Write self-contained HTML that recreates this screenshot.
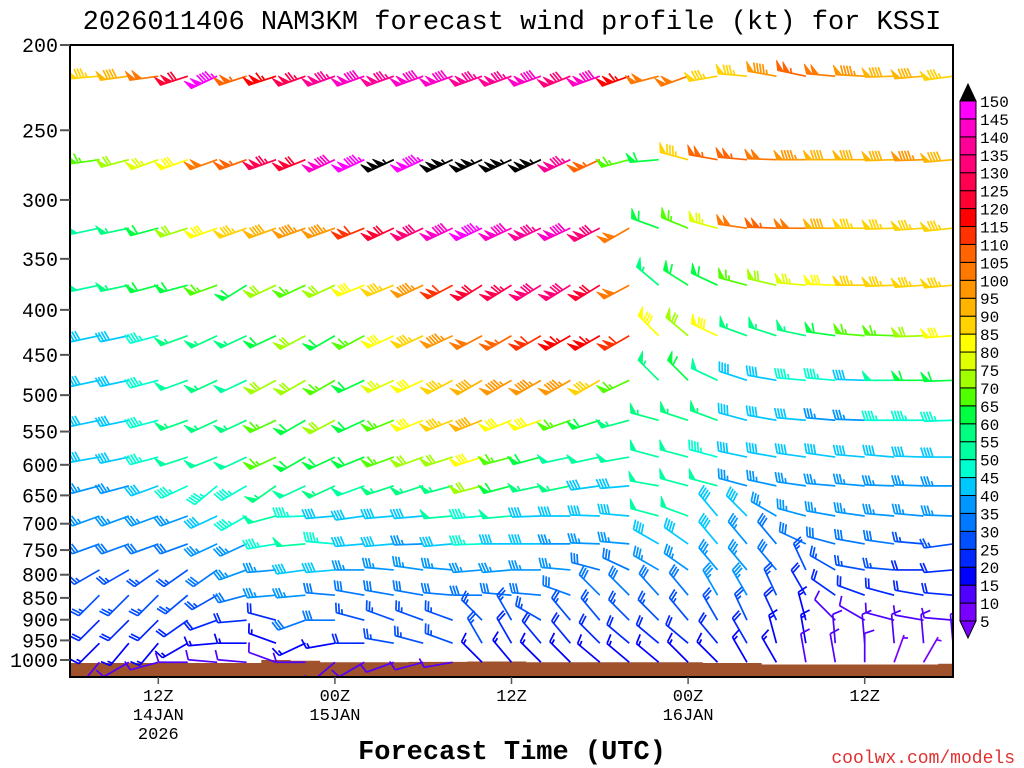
<!DOCTYPE html>
<html><head><meta charset="utf-8"><style>
html,body{margin:0;padding:0;background:#fff;}
svg{display:block;}
text{font-family:"Liberation Mono",monospace;fill:#000;}
</style></head><body>
<svg id="chart" width="1024" height="768" viewBox="0 0 1024 768" xmlns="http://www.w3.org/2000/svg">
<defs><clipPath id="plotclip"><rect x="70" y="45" width="883" height="632"/></clipPath></defs>
<rect x="0" y="0" width="1024" height="768" fill="#fff"/>
<text x="512" y="29" text-anchor="middle" font-size="27">2026011406 NAM3KM forecast wind profile (kt) for KSSI</text>
<g id="terrain" clip-path="url(#plotclip)"></g>
<g id="barbs" clip-path="url(#plotclip)"></g>
<rect x="70" y="45" width="883" height="632" fill="none" stroke="#000" stroke-width="2"/>
<g id="yaxis"></g>
<g id="xaxis"></g>
<text x="512" y="759" text-anchor="middle" font-size="27" font-weight="bold">Forecast Time (UTC)</text>
<text x="1015" y="763" text-anchor="end" font-size="18" style="fill:#e03030">coolwx.com/models</text>
<g id="cbar"></g>
</svg>
<script>
const hours=[0,2,4,6,8,10,12,14,16,18,20,22,24,26,28,30,32,34,36,38,40,42,44,46,48,50,52,54,56,58,60];
const levels=[217,270,323,375,428,481,534,588,634,686,738,790,844,901,957,1006];
const spd217=[85,85,90,100,120,145,105,115,125,135,140,135,140,140,135,135,140,130,140,115,100,100,85,85,95,105,100,95,90,90,85];
const dir217=[265,265,262,262,252,245,252,252,250,250,250,250,250,250,250,250,250,248,250,250,255,250,260,275,280,282,275,273,268,265,262];
const spd270=[65,65,70,75,80,100,105,125,120,140,145,155,145,155,155,155,155,135,105,65,60,85,105,105,100,95,90,90,90,95,90];
const dir270=[268,262,255,250,250,250,250,250,248,245,245,245,245,245,245,245,245,245,245,255,265,285,280,275,272,270,270,270,268,268,265];
const spd323=[50,50,55,60,70,80,85,90,95,95,110,120,130,140,145,140,135,140,130,100,60,65,75,100,105,100,90,85,85,85,85];
const dir323=[260,258,258,255,252,250,250,250,250,250,248,245,245,245,245,245,245,245,243,240,290,292,285,278,272,270,270,270,268,266,264];
const spd375=[50,50,55,60,60,65,60,70,65,70,80,85,95,110,120,125,130,130,120,100,55,60,60,65,70,75,80,85,85,85,85];
const dir375=[260,258,258,255,255,250,238,245,245,245,248,248,245,242,238,238,238,238,238,242,310,302,295,285,283,275,272,270,268,266,265];
const spd428=[40,40,40,45,55,55,55,60,70,60,65,80,85,95,100,105,110,115,115,110,80,70,80,55,55,55,60,65,65,70,80];
const dir428=[260,258,258,255,250,245,245,245,242,240,242,245,245,245,242,240,240,240,240,240,315,310,295,290,288,282,278,275,272,268,266];
const spd481=[40,40,40,45,50,55,50,70,70,65,60,75,80,85,90,95,95,95,85,65,55,60,50,40,40,45,45,40,50,60,60];
const dir481=[260,258,258,255,250,245,245,242,240,240,245,245,245,242,240,240,240,240,240,245,315,315,295,288,280,275,275,272,270,270,268];
const spd534=[40,40,40,45,55,55,55,65,60,70,60,65,80,85,90,80,80,65,60,55,55,55,55,40,40,40,35,35,45,45,45];
const dir534=[260,258,258,255,250,245,245,245,240,242,245,248,248,248,248,248,250,250,252,255,285,288,290,285,280,275,275,272,270,270,268];
const spd588=[40,40,40,45,50,50,50,65,60,60,60,65,70,70,80,65,60,50,50,50,50,50,45,40,40,40,40,40,40,40,40];
const dir588=[260,260,258,255,252,248,245,245,240,245,248,250,250,252,252,255,255,258,258,260,285,285,285,282,280,278,278,275,275,272,270];
const spd634=[35,35,35,40,45,45,45,55,50,55,50,55,55,55,70,60,55,55,40,40,50,50,50,35,35,35,35,35,35,35,35];
const dir634=[262,255,255,250,245,230,240,235,245,245,250,252,252,255,255,255,258,258,262,265,280,285,285,285,282,278,275,275,272,272,270];
const spd686=[35,35,35,35,35,40,45,50,45,40,40,40,40,50,45,50,40,40,40,40,50,50,40,40,35,35,35,35,35,35,35];
const dir686=[250,250,250,250,250,245,240,255,268,265,262,265,265,265,265,265,268,270,272,275,285,290,320,315,300,285,280,278,275,275,272];
const spd738=[30,30,30,30,30,35,35,45,50,45,40,40,35,40,45,40,40,35,35,35,40,40,40,35,30,30,30,30,30,25,25];
const dir738=[250,250,250,250,250,245,245,260,265,275,265,265,268,265,268,270,270,270,272,275,300,305,320,320,320,295,285,280,278,275,262];
const spd790=[25,25,25,25,25,30,35,35,40,40,35,35,35,35,35,35,35,35,30,30,35,35,35,35,30,25,25,25,25,20,20];
const dir790=[240,240,240,235,235,235,250,265,262,265,270,275,278,275,265,265,270,275,285,295,300,305,320,320,320,335,300,280,275,270,265];
const spd844=[25,25,25,25,25,25,30,35,35,30,30,30,30,30,30,30,30,30,30,30,30,30,35,35,25,20,20,20,20,20,20];
const dir844=[225,225,225,225,230,240,255,265,265,275,280,280,280,275,270,275,275,290,315,315,318,320,330,330,335,330,305,290,285,280,275];
const spd901=[20,20,20,20,20,20,20,20,30,30,25,25,25,25,25,25,25,25,25,25,25,25,25,25,20,15,10,10,10,10,10];
const dir901=[225,225,225,225,235,250,265,285,250,270,285,290,290,290,315,330,300,320,320,315,315,320,330,335,335,345,315,300,285,280,275];
const spd957=[15,15,15,15,15,15,15,15,15,15,20,25,25,25,25,20,20,20,20,20,20,20,20,20,15,15,10,10,10,10,10];
const dir957=[225,225,220,220,240,265,270,290,245,260,270,280,285,290,330,330,320,320,315,310,310,310,320,330,345,350,355,355,355,355,355];
const spd1006=[10,10,10,10,10,10,10,10,10,10,10,10,10,10,15,15,15,15,15,15,15,15,15,15,15,10,10,10,5,5,10];
const dir1006=[220,220,240,255,270,275,275,290,270,230,240,250,255,260,315,320,315,315,310,310,310,315,315,330,330,350,350,360,20,30,45];
const surfacePressure=[1008,1008,1008,1008,1008,1008,1008,1000,1002,1006,1006,1006,1005,1005,1004,1004,1006,1006,1006,1006,1006,1006,1008,1008,1012,1012,1012,1012,1012,1012,1010];
const yTicks=[200,250,300,350,400,450,500,550,600,650,700,750,800,850,900,950,1000];
const xTickHours=[6,18,30,42,54];
const xTickLine1=['12Z','00Z','12Z','00Z','12Z'];
const xTickLine2=['14JAN','15JAN','','16JAN',''];
const xTickLine3=['2026','','','',''];
const cbarLabels=[5,10,15,20,25,30,35,40,45,50,55,60,65,70,75,80,85,90,95,100,105,110,115,120,125,130,135,140,145,150];
const cbarColors=['#7800ff','#5000ff','#0000ff','#0028ff','#0050ff','#0078ff','#0096ff','#00c8ff','#00ffd0','#00ffa0','#00ff80','#00ff40','#50ff00','#a0ff00','#e0ff00','#ffff00','#ffd200','#ffb400','#ff9600','#ff7800','#ff6400','#ff3200','#ff0000','#ff0032','#ff0050','#ff0078','#ff0096','#ff00c8','#ff00ff'];
const spdRows=[spd217,spd270,spd323,spd375,spd428,spd481,spd534,spd588,spd634,spd686,spd738,spd790,spd844,spd901,spd957,spd1006];
const dirRows=[dir217,dir270,dir323,dir375,dir428,dir481,dir534,dir588,dir634,dir686,dir738,dir790,dir844,dir901,dir957,dir1006];

const NS='http://www.w3.org/2000/svg';
function mk(tag,attrs,parent){const e=document.createElementNS(NS,tag);for(const k in attrs)e.setAttribute(k,attrs[k]);parent.appendChild(e);return e;}
const X0=70,X1=953,Y0=45,Y1=677;
function xs(h){return X0+(h-0)*(X1-X0)/60;}
function ys(p){return Y0+615*Math.log(p/200)/Math.log(5);}
function colorFor(s){if(s>=150)return '#000000';if(s<5)return '#7800ff';return cbarColors[Math.floor(s/5)-1];}

const tg=document.getElementById('terrain');
let pts=[];
for(let i=0;i<hours.length;i++){
  const xa=xs(hours[i])-14.7, xb=xs(hours[i])+14.7, y=ys(surfacePressure[i]);
  pts.push(xa+','+y, xb+','+y);
}
pts.push(X1+20+','+(Y1+5), (X0-20)+','+(Y1+5));
const terr=mk('polygon',{points:pts.join(' '),fill:'#a0522d'},tg);



const bg=document.getElementById('barbs');
const L=29,F=10,rad=Math.PI/180,lean=-18*rad;
function drawBarb(x,y,s,d){
  const col=colorFor(s);
  const g=mk('g',{stroke:col,fill:col,'stroke-width':1.7,'stroke-linecap':'butt'},bg);
  
  
  const ux=Math.sin(d*rad), uy=-Math.cos(d*rad);
  const px=-uy, py=ux;
  const fx=F*(px*Math.cos(lean)-ux*Math.sin(lean)), fy=F*(py*Math.cos(lean)-uy*Math.sin(lean));
  const tx=x+L*ux, ty=y+L*uy;
  mk('line',{x1:x,y1:y,x2:tx,y2:ty},g);
  const pt=t=>[tx-ux*t,ty-uy*t];
  let rem=Math.round(s/5)*5, pos=0;
  let hadFlag=false;
  while(rem>=50){const a=pt(pos),b=pt(pos+6);
    mk('polygon',{points:`${a[0]},${a[1]} ${a[0]+fx},${a[1]+fy} ${b[0]},${b[1]}`,'stroke-width':0.8},g);
    pos+=6.5;rem-=50;hadFlag=true;}
  if(hadFlag)pos+=1;
  while(rem>=10){const a=pt(pos);mk('line',{x1:a[0],y1:a[1],x2:a[0]+fx,y2:a[1]+fy},g);pos+=3;rem-=10;}
  if(rem>=5){if(pos===0)pos=3;const a=pt(pos);mk('line',{x1:a[0],y1:a[1],x2:a[0]+fx*0.5,y2:a[1]+fy*0.5},g);}
}
for(let li=0;li<levels.length;li++){
  for(let i=0;i<hours.length;i++){
    drawBarb(xs(hours[i]),ys(levels[li]),spdRows[li][i],dirRows[li][i]);
  }
}

const ya=document.getElementById('yaxis');
yTicks.forEach(p=>{
  const y=ys(p);
  const t=mk('line',{x1:60,y1:y,x2:70,y2:y,stroke:'#555','stroke-width':2},ya);
  
  
  const l=mk('text',{x:58,y:y+7,'text-anchor':'end','font-size':20},ya);
  
  
  l.textContent=String(p);
});
const xa=document.getElementById('xaxis');
xTickHours.forEach((h,i)=>{
  const x=xs(h);
  const t=mk('line',{x1:x,y1:677,x2:x,y2:684,stroke:'#555','stroke-width':1.5},xa);
  
  
  [xTickLine1[i],xTickLine2[i],xTickLine3[i]].forEach((s,k)=>{
    if(!s)return;
    const l=mk('text',{x:x,y:701+k*19,'text-anchor':'middle','font-size':17},xa);
    
    
    l.textContent=s;
  });
});
const cb=document.getElementById('cbar');
const cbTop=101,cbBot=621,bh=(cbBot-cbTop)/cbarColors.length;
cbarColors.forEach((c,i)=>{
  const y=cbBot-(i+1)*bh;
  const r=mk('rect',{x:960,y:y,width:16,height:bh,fill:c,stroke:'#000','stroke-width':1},cb);
  
  
});
const tri1=mk('polygon',{points:`960,${cbTop} 976,${cbTop} 968,${cbTop-17}`,fill:'#000',stroke:'#000'},cb);


const tri2=mk('polygon',{points:`960,${cbBot} 976,${cbBot} 968,${cbBot+17}`,fill:'#7800ff',stroke:'#000'},cb);


cbarLabels.forEach((v,i)=>{
  const y=cbBot-i*bh;
  const l=mk('text',{x:980,y:y+6,'font-size':16},cb);
  
  
  l.textContent=String(v);
});
</script>
</body></html>
